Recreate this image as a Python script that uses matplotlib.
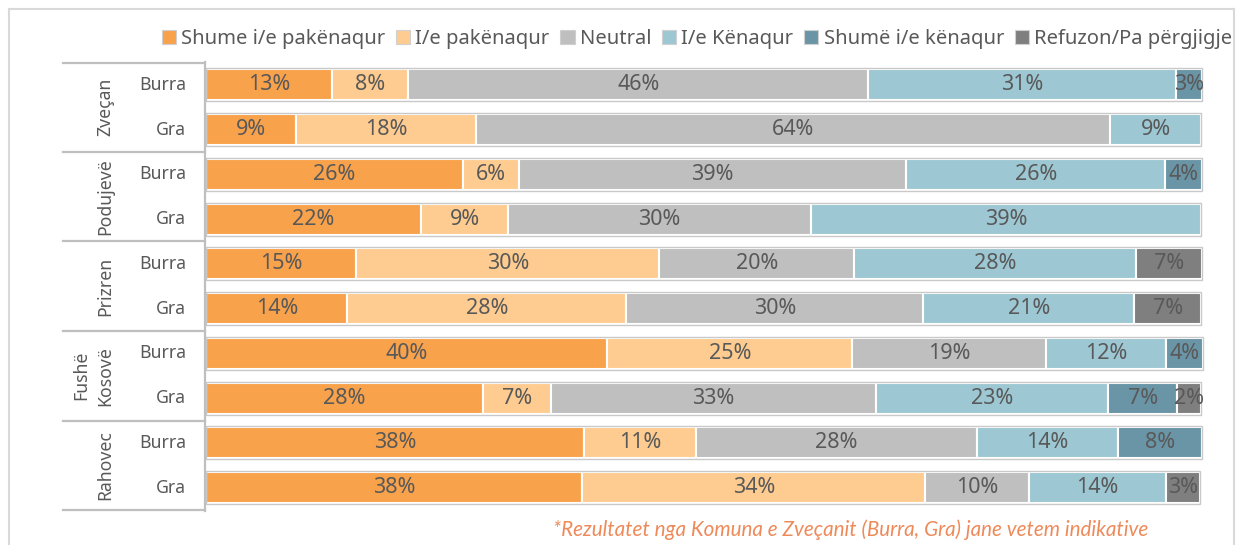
import matplotlib
matplotlib.use("Agg")
import matplotlib.pyplot as plt
from matplotlib.patches import Rectangle
from matplotlib.lines import Line2D

plt.rcParams['font.family'] = ['Noto Sans', 'DejaVu Sans']

groups = ["Zveçan", "Podujevë", "Prizren", "Fushë\nKosovë", "Rahovec"]
genders = ["Burra", "Gra"]
categories = ["Shume i/e pakënaqur", "I/e pakënaqur", "Neutral", "I/e Kënaqur",
              "Shumë i/e kënaqur", "Refuzon/Pa përgjigje"]
colors = ["#F9A24C", "#FECC90", "#BFBFBF", "#9DC8D3", "#6A95A6", "#7F7F7F"]

# rows in order: Zveçan Burra, Zveçan Gra, Podujevë Burra, ... Rahovec Gra
shume_pakenaqur = [12.7, 9.0, 25.8, 21.6, 15.1, 14.2, 40.3, 27.8, 38.0, 37.8]
pakenaqur       = [7.6, 18.1, 5.6, 8.7, 30.4, 28.0, 24.6, 6.8, 11.2, 34.4]
neutral         = [46.2, 63.7, 38.9, 30.4, 19.6, 29.8, 19.4, 32.7, 28.2, 10.4]
kenaqur         = [30.9, 9.1, 26.0, 39.2, 28.3, 21.2, 12.1, 23.3, 14.2, 13.8]
shume_kenaqur   = [2.6, 0.0, 3.7, 0.0, 0.0, 0.0, 3.7, 6.9, 8.4, 0.0]
refuzon         = [0.0, 0.0, 0.0, 0.0, 6.6, 6.7, 0.0, 2.4, 0.0, 3.4]
series = [shume_pakenaqur, pakenaqur, neutral, kenaqur, shume_kenaqur, refuzon]

footnote = "*Rezultatet nga Komuna e Zveçanit (Burra, Gra) jane vetem indikative"

W, H = 1236, 545
fig = plt.figure(figsize=(W / 100, H / 100), dpi=100)

def fx(px):
    return px / W

def fy(py):
    return 1 - py / H

ax_left, ax_right, ax_top, ax_bottom = 206, 1202, 62.5, 510
ax = fig.add_axes([fx(ax_left), fy(ax_bottom), fx(ax_right - ax_left), (ax_bottom - ax_top) / H])
n = len(shume_pakenaqur)
ax.set_xlim(0, 100)
ax.set_ylim(n - 0.5, -0.5)
ax.axis("off")

text_color = "#595959"
bar_h = 0.69
for i in range(n):
    left = 0.0
    for s, c in zip(series, colors):
        v = s[i]
        if v > 0:
            ax.barh(i, v, left=left, height=bar_h, color=c, edgecolor="white", linewidth=1.5, zorder=2)
            ax.text(left + v / 2, i, f"{v:.0f}%", ha="center", va="center",
                    fontsize=15.5, color=text_color, fontweight="light", zorder=4)
        left += v
    ax.add_patch(Rectangle((0, i - 0.37), left, 0.74, fill=False, edgecolor="#C9C9C9",
                           linewidth=1.0, zorder=3, clip_on=False))

# left frame / category axis
line_c = "#BFBFBF"
fig.add_artist(Line2D([fx(205), fx(205)], [fy(62), fy(511)], color=line_c, lw=1.6))
pitch = (ax_bottom - ax_top) / n
for g in range(len(groups) + 1):
    yy = ax_top + g * 2 * pitch
    fig.add_artist(Line2D([fx(63), fx(205)], [fy(yy), fy(yy)], color=line_c, lw=1.6))
for g, name in enumerate(groups):
    yc = ax_top + (2 * g + 1) * pitch
    fig.text(fx(114), fy(yc), name, rotation=90, ha="right", va="center",
             fontsize=12.7, color=text_color, multialignment="center", linespacing=1.4)
    for k, gen in enumerate(genders):
        yr = ax_top + (2 * g + k + 0.5) * pitch
        fig.text(fx(186), fy(yr), gen, ha="right", va="center", fontsize=12.7, color=text_color)

# outer chart frame
frame_c = "#D9D9D9"
fig.add_artist(Line2D([fx(9), fx(9)], [fy(9), fy(545)], color=frame_c, lw=1.5))
fig.add_artist(Line2D([fx(9), fx(1234)], [fy(9), fy(9)], color=frame_c, lw=1.5))
fig.add_artist(Line2D([fx(1234), fx(1234)], [fy(9), fy(545)], color=frame_c, lw=1.5))

# legend
handles = [Rectangle((0, 0), 1, 1, facecolor=c, edgecolor="#D0D0D0", linewidth=0.8) for c in colors]
fig.legend(handles, categories, loc="center", bbox_to_anchor=(fx(697), fy(39)), ncol=6,
           frameon=False, fontsize=14.5, handlelength=0.7, handleheight=0.7,
           handletextpad=0.25, columnspacing=0.55, labelcolor=text_color, borderpad=0)

fig.text(fx(1148), fy(530), footnote, ha="right", va="center", fontsize=14.9,
         style="italic", color="#EE8A5A", family=["Lato", "DejaVu Sans"])

fig.savefig("out.png", dpi=100)
